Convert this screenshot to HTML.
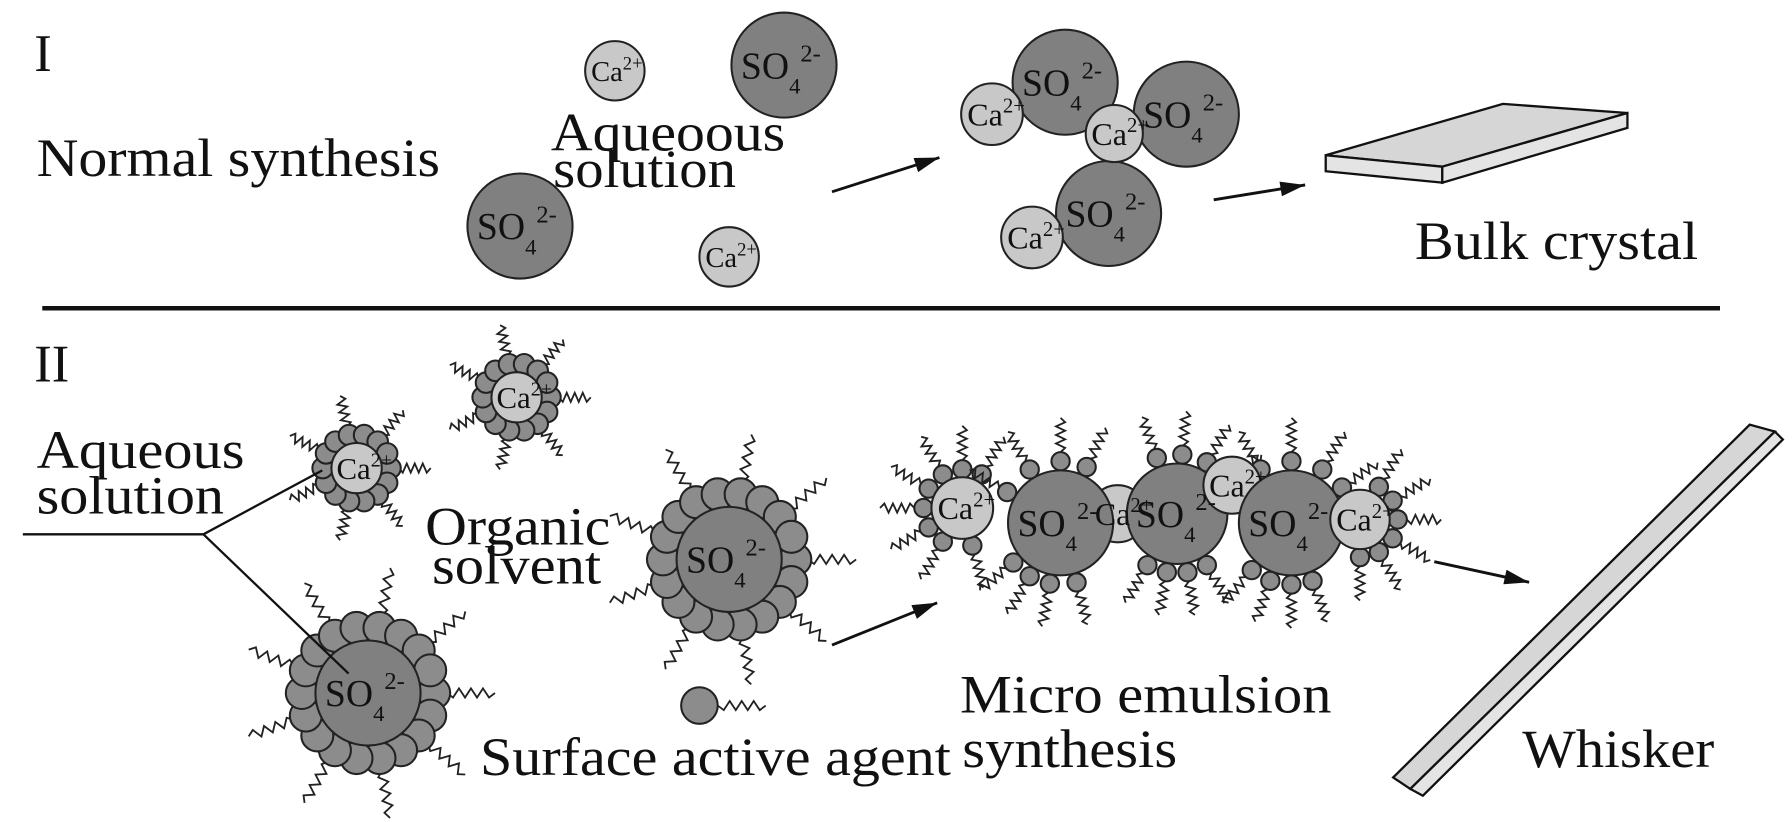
<!DOCTYPE html>
<html><head><meta charset="utf-8"><style>
html,body{margin:0;padding:0;background:#fff;}
svg{display:block;}
text{font-family:"Liberation Serif",serif;fill:#111;}
</style></head><body>
<svg id="s" width="1792" height="822" viewBox="0 0 1568 720" preserveAspectRatio="none" xmlns="http://www.w3.org/2000/svg">
<defs>
<marker id="ah" viewBox="0 0 20 12" markerWidth="22" markerHeight="13" refX="20" refY="6" orient="auto" markerUnits="userSpaceOnUse"><path d="M0,0 L20,6 L0,12 z" fill="#111"/></marker></defs>
<rect width="1568" height="720" fill="#fff"/>
<g id="shapes"></g>
<!-- section I -->
<text x="30" y="62" font-size="46">I</text>
<text x="32" y="154" font-size="47" textLength="353" lengthAdjust="spacingAndGlyphs">Normal synthesis</text>
<text x="482" y="132" font-size="47" textLength="205" lengthAdjust="spacingAndGlyphs">Aqueoous</text>
<text x="484" y="164" font-size="47" textLength="160" lengthAdjust="spacingAndGlyphs">solution</text>
<line x1="728" y1="168" x2="822" y2="138" stroke="#111" stroke-width="2.5" marker-end="url(#ah)"/>
<line x1="1062" y1="175" x2="1142" y2="162" stroke="#111" stroke-width="2.5" marker-end="url(#ah)"/>
<polygon points="1160,136 1315,91 1424,99 1262,146" fill="#d6d6d6" stroke="#111" stroke-width="2"/>
<polygon points="1160,136 1262,146 1262,160 1160,150" fill="#e4e4e4" stroke="#111" stroke-width="2"/>
<polygon points="1262,146 1424,99 1424,112 1262,160" fill="#e4e4e4" stroke="#111" stroke-width="2"/>
<text x="1238" y="227" font-size="47" textLength="248" lengthAdjust="spacingAndGlyphs">Bulk crystal</text>
<line x1="37" y1="270" x2="1505" y2="270" stroke="#111" stroke-width="4"/>
<!-- section II -->
<text x="30" y="334" font-size="46">II</text>
<text x="32" y="410" font-size="47" textLength="182" lengthAdjust="spacingAndGlyphs">Aqueous</text>
<text x="32" y="450" font-size="47" textLength="164" lengthAdjust="spacingAndGlyphs">solution</text>
<polyline points="20,468 178,468 282,412" fill="none" stroke="#111" stroke-width="2"/>
<line x1="178" y1="468" x2="305" y2="590" stroke="#111" stroke-width="2"/>
<text x="372" y="477" font-size="47" textLength="162" lengthAdjust="spacingAndGlyphs">Organic</text>
<text x="378" y="511" font-size="47" textLength="148" lengthAdjust="spacingAndGlyphs">solvent</text>
<line x1="728" y1="565" x2="820" y2="528" stroke="#111" stroke-width="2.5" marker-end="url(#ah)"/>
<line x1="1255" y1="492" x2="1338" y2="510" stroke="#111" stroke-width="2.5" marker-end="url(#ah)"/>
<text x="420" y="679" font-size="47" textLength="412" lengthAdjust="spacingAndGlyphs">Surface active agent</text>
<text x="840" y="624" font-size="47" textLength="325" lengthAdjust="spacingAndGlyphs">Micro emulsion</text>
<text x="842" y="672" font-size="47" textLength="188" lengthAdjust="spacingAndGlyphs">synthesis</text>
<polygon points="1219,681 1531,372 1553,378 1234,691" fill="#d6d6d6" stroke="#111" stroke-width="2"/>
<polygon points="1234,691 1553,378 1560,385 1245,697" fill="#e4e4e4" stroke="#111" stroke-width="2"/>
<text x="1332" y="672" font-size="47" textLength="168" lengthAdjust="spacingAndGlyphs">Whisker</text>
<g id="labels"></g>
</svg>
<script>
var NS="http://www.w3.org/2000/svg",G=document.getElementById('shapes'),L=document.getElementById('labels');
function el(t,a,p){var e=document.createElementNS(NS,t);for(var k in a)e.setAttribute(k,a[k]);(p||G).appendChild(e);return e;}
function circ(x,y,r,f){el('circle',{cx:x,cy:y,r:r,fill:f,stroke:'#222','stroke-width':1.8});}
function tail(x,y,ang,len){var p=[],n=8,amp=4;for(var i=0;i<=n;i++){var d=len*i/n,o=(i%2?amp:-amp)*(i>0&&i<n?1:0);p.push((x+Math.cos(ang)*d-Math.sin(ang)*o).toFixed(1)+','+(y+Math.sin(ang)*d+Math.cos(ang)*o).toFixed(1));}
el('polyline',{points:p.join(' '),fill:'none',stroke:'#222','stroke-width':1.6});}
function ion(x,y,r,type,fs){
 circ(x,y,r,type=='ca'?'#c8c8c8':'#808080');
 fs=fs||22;
 var t=el('text',{x:x-(type=='ca'?r*0.8:r*0.82),y:y+fs*0.35,'font-size':fs},L);
 if(type=='ca'){t.textContent='Ca';var s=el('tspan',{dy:-fs*0.4,'font-size':fs*0.65},t);s.textContent='2+';}
 else{t.textContent='SO';var s=el('tspan',{dy:fs*0.4,'font-size':fs*0.6},t);s.textContent='4';var s2=el('tspan',{dy:-fs*0.85,'font-size':fs*0.65},t);s2.textContent='2-';}
}
function micelle(x,y,cr,hr,n,tl,type,fs,tails){
 var R=cr+hr*0.85;
 for(var i=0;i<n;i++){var a=i*2*Math.PI/n;if(tails===undefined||i%tails==0)tail(x+Math.cos(a)*(R+hr*0.8),y+Math.sin(a)*(R+hr*0.8),a,tl);}
 for(var i=0;i<n;i++){var a=i*2*Math.PI/n;circ(x+Math.cos(a)*R,y+Math.sin(a)*R,hr,'#8c8c8c');}
 ion(x,y,cr,type,fs);
}
ion(538,62,26,'ca',25);ion(686,57,46,'so',33);ion(455,198,46,'so',33);ion(638,225,26,'ca',25);
ion(932,72,46,'so',33);ion(1038,100,46,'so',33);ion(970,187,46,'so',33);
ion(868,100,27,'ca',28);ion(975,117,25,'ca',28);ion(903,208,27,'ca',28);
micelle(312,410,22,9,14,28,'ca',27,2);
micelle(452,348,22,9,14,28,'ca',27,2);
micelle(638,490,46,14,18,42,'so',33,2);
micelle(322,607,46,14,18,42,'so',33,2);
circ(612,618,16,'#8c8c8c');tail(628,618,0,42);
function heads(x,y,R,angs,hr){angs.forEach(function(d){var a=d*Math.PI/180;tail(x+Math.cos(a)*(R+hr),y+Math.sin(a)*(R+hr),a,30);});
 angs.forEach(function(d){var a=d*Math.PI/180;circ(x+Math.cos(a)*R,y+Math.sin(a)*R,hr,'#8c8c8c');});}
heads(842,445,34,[120,150,180,210,240,270,300,75],8);
heads(928,458,54,[-150,-120,-90,-65,100,120,75,140],8);
heads(1030,450,52,[-110,-85,-60,-35,80,100,120,60],8);
heads(1130,458,54,[-120,-90,-60,-35,90,110,70,130],8);
heads(1190,455,33,[-60,-30,0,30,60,90],8);
ion(842,445,27,'ca',28);ion(978,450,25,'ca',28);
ion(928,458,46,'so',33);ion(1030,450,44,'so',33);ion(1078,425,25,'ca',28);
ion(1130,458,46,'so',33);ion(1190,455,26,'ca',28);
</script>
</body></html>
